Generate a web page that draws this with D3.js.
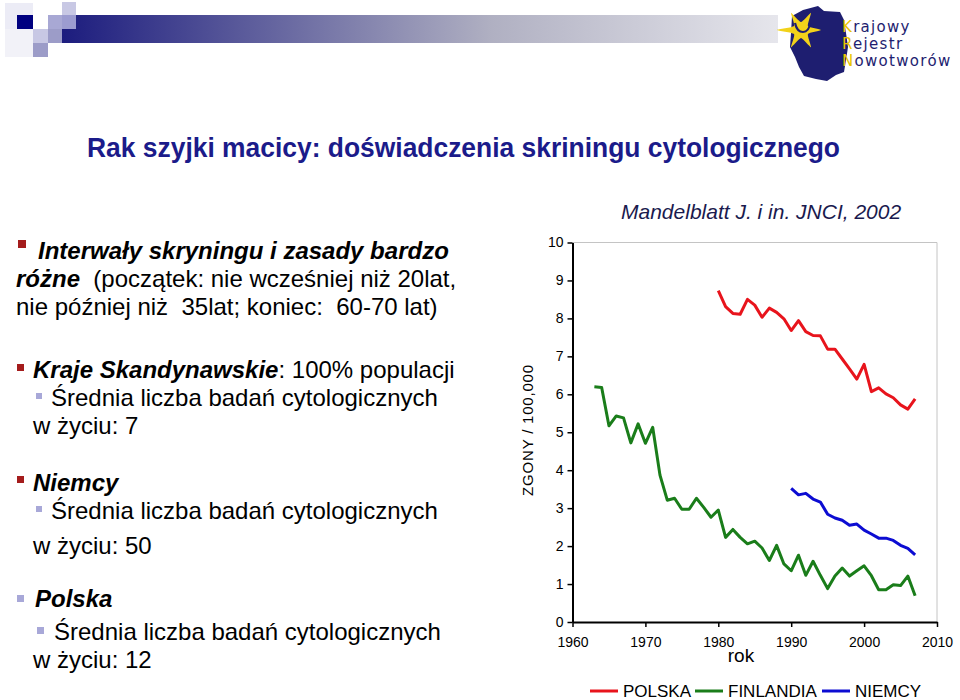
<!DOCTYPE html>
<html><head><meta charset="utf-8">
<script src="https://cdn.jsdelivr.net/npm/d3@7"></script>
<style>
body{margin:0;background:#fff}
svg{display:block}
text{font-family:Arial,'Liberation Sans',sans-serif;white-space:pre}
</style>
</head><body>
<svg id="c" width="960" height="700"></svg>
<script>
// ---------------- DATA ----------------
const polskaYears = [1980,1981,1982,1983,1984,1985,1986,1987,1988,1989,1990,1991,1992,1993,1994,1995,1996,1997,1998,1999,2000,2001,2002,2003,2004,2005,2006,2007];
const polskaValues = [8.73,8.31,8.13,8.11,8.50,8.35,8.03,8.27,8.16,7.99,7.68,7.94,7.65,7.55,7.54,7.19,7.19,6.93,6.67,6.40,6.79,6.07,6.17,6.01,5.91,5.72,5.61,5.88];

const finlandiaYears = [1963,1964,1965,1966,1967,1968,1969,1970,1971,1972,1973,1974,1975,1976,1977,1978,1979,1980,1981,1982,1983,1984,1985,1986,1987,1988,1989,1990,1991,1992,1993,1994,1995,1996,1997,1998,1999,2000,2001,2002,2003,2004,2005,2006,2007];
const finlandiaValues = [6.20,6.18,5.17,5.43,5.38,4.72,5.22,4.71,5.13,3.87,3.21,3.26,2.97,2.97,3.26,3.02,2.76,2.95,2.23,2.44,2.23,2.06,2.13,1.95,1.62,2.02,1.53,1.35,1.76,1.23,1.60,1.23,0.88,1.21,1.42,1.21,1.35,1.48,1.22,0.85,0.85,0.98,0.96,1.21,0.69];

const niemcyYears = [1990,1991,1992,1993,1994,1995,1996,1997,1998,1999,2000,2001,2002,2003,2004,2005,2006,2007];
const niemcyValues = [3.52,3.35,3.39,3.24,3.16,2.84,2.74,2.68,2.55,2.58,2.42,2.32,2.21,2.21,2.15,2.02,1.94,1.77];

const yTicks = [0,1,2,3,4,5,6,7,8,9,10];
const xTicks = [1960,1970,1980,1990,2000,2010];
const seriesNames = ["POLSKA","FINLANDIA","NIEMCY"];
const seriesColors = ["#e8141c","#1a7d1a","#0c0cd2"];
const yLabel = "ZGONY / 100,000";
const xLabel = "rok";
const sourceText = "Mandelblatt J. i in. JNCI, 2002";
const titleText = "Rak szyjki macicy: doświadczenia skriningu cytologicznego";

// ---------------- DRAW ----------------
const svg = d3.select("#c");
const defs = svg.append("defs");

// header decoration
const grad = defs.append("linearGradient").attr("id","hg").attr("x1","0").attr("x2","1").attr("y1","0").attr("y2","0");
grad.append("stop").attr("offset","0").attr("stop-color","#1c1c7e");
grad.append("stop").attr("offset","0.6").attr("stop-color","#b0b0c2");
grad.append("stop").attr("offset","1").attr("stop-color","#e6e6ec");
svg.append("rect").attr("x",62).attr("y",15).attr("width",716).attr("height",28).attr("fill","url(#hg)");
const sq = [
  [5,3,28,26,"#ececf6"],[5,29,28,28,"#f2f2f8"],
  [17,15,16,14,"#000080"],
  [62,2,14,13,"#c8c8e4"],[48,15,14,14,"#a8a8d4"],[62,15,14,14,"#9c9cd0"],
  [33,29,15,14,"#c8c8e4"],[48,29,14,14,"#9c9cc8"],[33,43,15,14,"#9c9cc8"]
];
svg.selectAll("rect.sq").data(sq).enter().append("rect").attr("class","sq")
  .attr("x",d=>d[0]).attr("y",d=>d[1]).attr("width",d=>d[2]).attr("height",d=>d[3]).attr("fill",d=>d[4]);

// logo
const poland = [[792,16],[803,10],[818,6],[824,11],[840,12],[844,20],[846,33],[848,47],[846,60],[844,72],[836,75],[827,81],[816,79],[804,76],[799,67],[795,57],[790,47],[791,33]];
svg.append("path").attr("d",d3.line().curve(d3.curveLinearClosed)(poland)).attr("fill","#1e1e70");
const starPts = [];
for (let i=0;i<12;i++){ starPts.push([ Math.PI + i*Math.PI/6, i%2===0?(i===0?24:20):8 ]); }
svg.append("path").attr("transform","translate(801,30)")
  .attr("d",d3.line().x(d=>Math.cos(d[0])*d[1]).y(d=>Math.sin(d[0])*d[1]).curve(d3.curveCardinalClosed.tension(0.5))(starPts))
  .attr("fill","#f2d21a");
svg.append("path").attr("d","M795,23 q2,9 8,9 q6,0 7,-9").attr("fill","none").attr("stroke","#1e1e70").attr("stroke-width",2.2);
const logoLines = [["K","rajowy",32],["R","ejestr",49],["N","owotworów",66]];
logoLines.forEach(l=>{
  const t = svg.append("text").attr("x",842).attr("y",l[2])
    .style("font-family","'DejaVu Sans',Verdana,sans-serif").attr("font-size",15).attr("letter-spacing",1.3);
  t.append("tspan").attr("fill","#e8c400").text(l[0]);
  t.append("tspan").attr("fill","#1e1e70").text(l[1]);
});

// title
svg.append("text").attr("x",87).attr("y",157).attr("font-size",28).attr("font-weight","bold")
  .attr("textLength",753).attr("lengthAdjust","spacingAndGlyphs")
  .attr("fill","#1b1b8a").text(titleText);

// left text
function bullet(x,y,s,c){ svg.append("rect").attr("x",x).attr("y",y).attr("width",s).attr("height",s).attr("fill",c); }
const red = "#a41c1c", lav = "#a8a8d8";
function line(x,y,parts){
  const t = svg.append("text").attr("x",x).attr("y",y).attr("font-size",24).attr("fill","#000");
  parts.forEach(p=>{
    const ts = t.append("tspan").text(p[0]);
    if (p[1]) ts.attr("font-weight","bold").attr("font-style","italic");
  });
}
bullet(18,240,8,red);
line(38,259,[["Interwały skryningu i zasady bardzo",1]]);
line(16,287,[["różne",1],["  (początek: nie wcześniej niż 20lat,",0]]);
line(16,315,[["nie później niż  35lat; koniec:  60-70 lat)",0]]);

bullet(17,364,7,red);
line(33,378,[["Kraje Skandynawskie",1],[": 100% populacji",0]]);
bullet(36,393,6,lav);
line(51,406,[["Średnia liczba badań cytologicznych",0]]);
line(33,434,[["w życiu: 7",0]]);

bullet(17,476,7,red);
line(33,491,[["Niemcy",1]]);
bullet(36,506,6,lav);
line(51,519,[["Średnia liczba badań cytologicznych",0]]);
line(33,554,[["w życiu: 50",0]]);

bullet(17,595,7,lav);
line(35,607,[["Polska",1]]);
bullet(37,627,7,lav);
line(54,640,[["Średnia liczba badań cytologicznych",0]]);
line(33,668,[["w życiu: 12",0]]);

// source
svg.append("text").attr("x",621).attr("y",219).attr("font-size",21).attr("font-style","italic")
  .attr("fill","#1a1a4e").text(sourceText);

// chart
const x = d3.scaleLinear().domain([1960,2010]).range([572.5,937]);
const y = d3.scaleLinear().domain([0,10]).range([622,242.5]);

svg.append("line").attr("x1",x(1960)).attr("x2",x(2010)).attr("y1",y(10)).attr("y2",y(10)).attr("stroke","#c4c4c4").attr("stroke-width",1);
svg.append("line").attr("x1",x(2010)).attr("x2",x(2010)).attr("y1",y(10)).attr("y2",y(0)).attr("stroke","#c4c4c4").attr("stroke-width",1);

const gy = svg.append("g").attr("transform",`translate(${x(1960)},0)`)
  .call(d3.axisLeft(y).tickValues(yTicks).tickSize(5).tickSizeOuter(0).tickPadding(4));
const gx = svg.append("g").attr("transform",`translate(0,${y(0)})`)
  .call(d3.axisBottom(x).tickValues(xTicks).tickFormat(d3.format("d")).tickSize(5).tickSizeOuter(0).tickPadding(10));
[gy,gx].forEach(g=>{
  g.select(".domain").attr("stroke","#000").attr("stroke-width",2);
  g.selectAll(".tick line").attr("stroke","#000").attr("stroke-width",1.5);
  g.selectAll(".tick text").attr("fill","#000").attr("font-size",14).style("font-family","Arial,'Liberation Sans',sans-serif");
});

svg.append("text").attr("transform","translate(533,430) rotate(-90)").attr("text-anchor","middle")
  .attr("font-size",15).attr("letter-spacing",0.8).attr("fill","#000").text(yLabel);
svg.append("text").attr("x",741).attr("y",662).attr("text-anchor","middle").attr("font-size",19).attr("fill","#000").text(xLabel);

const series = [
  {years:polskaYears, values:polskaValues},
  {years:finlandiaYears, values:finlandiaValues},
  {years:niemcyYears, values:niemcyValues}
];
const lineGen = d3.line().x(d=>x(d[0])).y(d=>y(d[1]));
series.forEach((s,i)=>{
  svg.append("path").attr("d",lineGen(s.years.map((yr,j)=>[yr,s.values[j]])))
    .attr("fill","none").attr("stroke",seriesColors[i]).attr("stroke-width",3).attr("stroke-linejoin","round");
});

// legend
const legX = [590,695,822];
seriesNames.forEach((n,i)=>{
  svg.append("line").attr("x1",legX[i]).attr("x2",legX[i]+28).attr("y1",691).attr("y2",691)
    .attr("stroke",seriesColors[i]).attr("stroke-width",3);
  svg.append("text").attr("x",legX[i]+33).attr("y",697).attr("font-size",17).attr("fill","#000").text(n);
});
</script>
</body></html>
